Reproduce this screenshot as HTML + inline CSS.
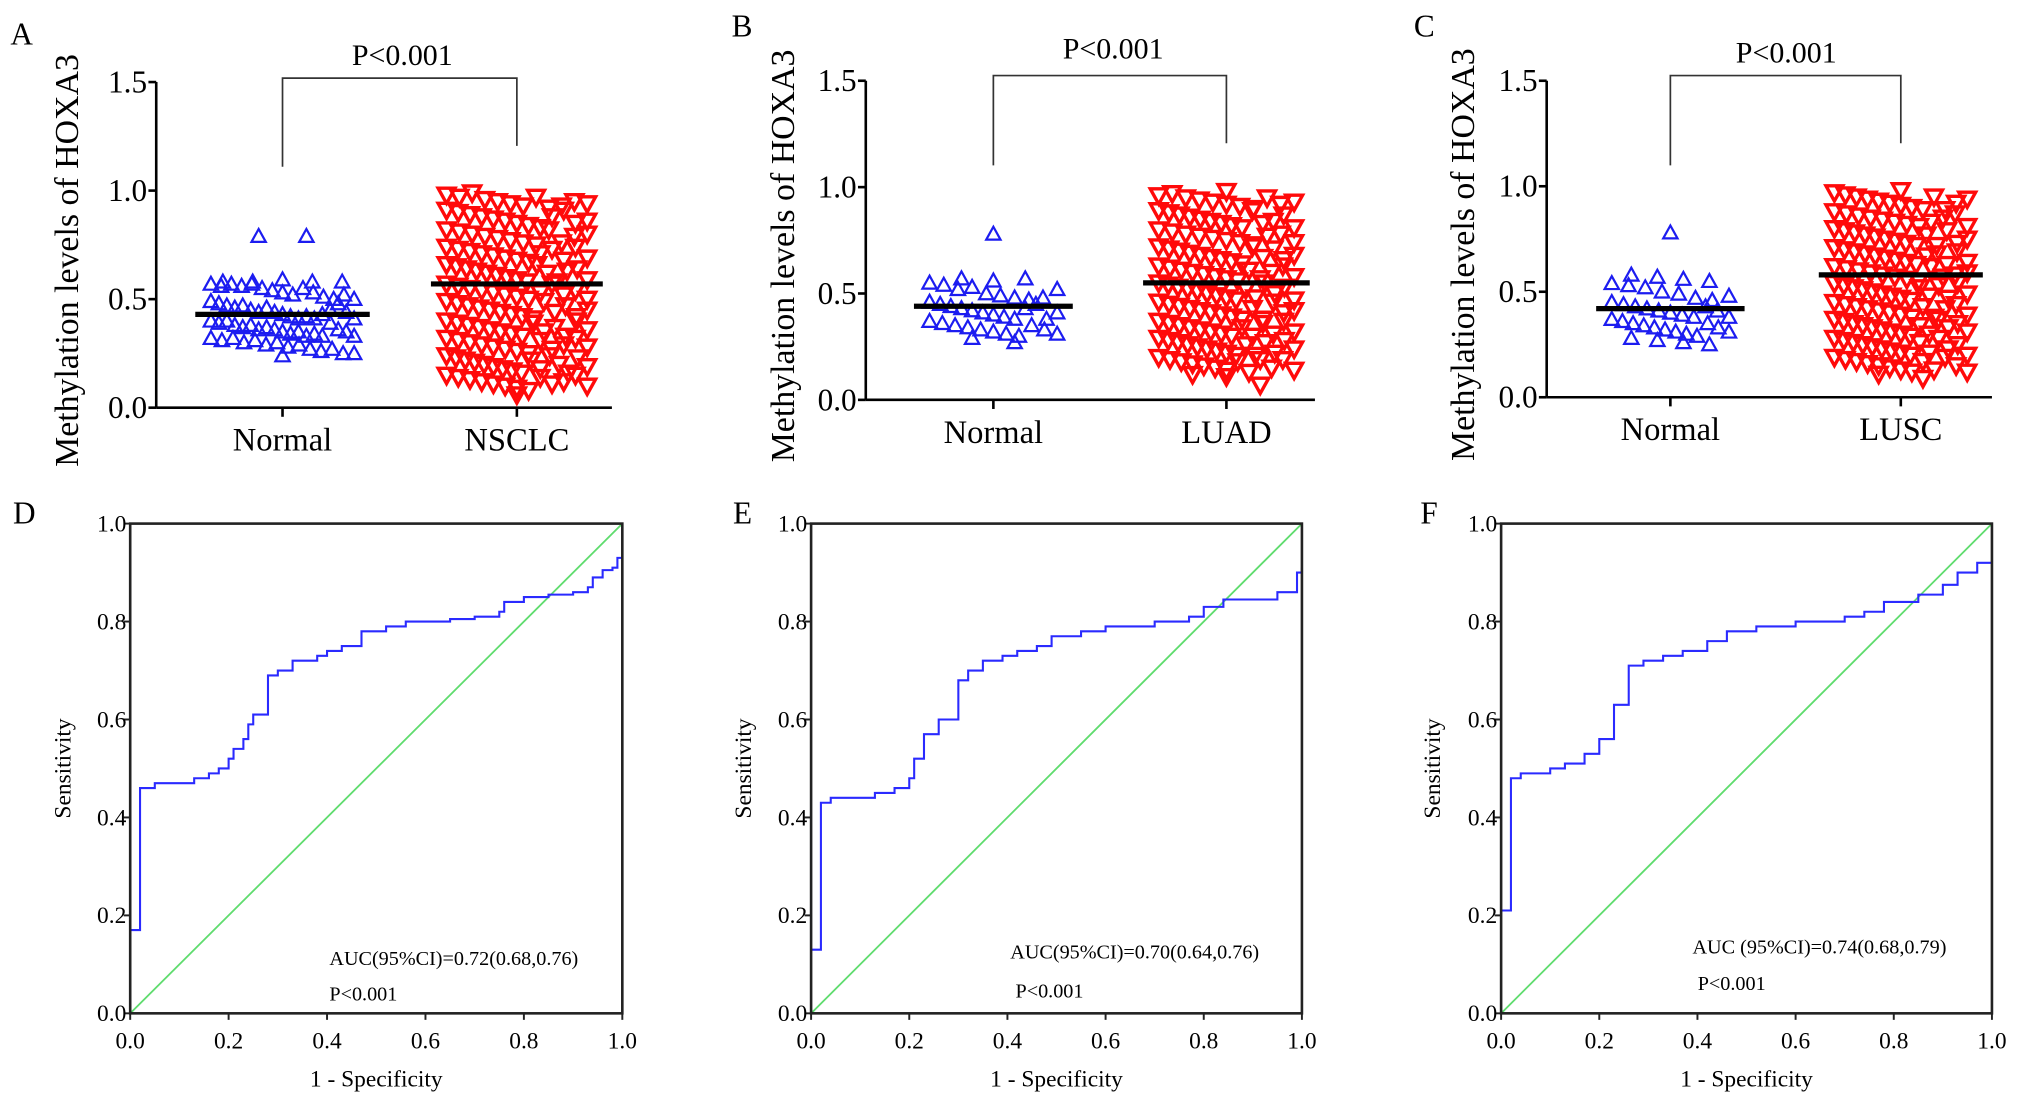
<!DOCTYPE html>
<html><head><meta charset="utf-8"><style>
html,body{margin:0;padding:0;background:#fff;}
svg{display:block;font-family:"Liberation Serif",serif;}
</style></head><body>
<svg id="fig" width="2031" height="1098" viewBox="0 0 1560 843" preserveAspectRatio="none" xmlns="http://www.w3.org/2000/svg"></svg>
<script>
// ---------- data ----------
const scatterCategories = [["Normal","NSCLC"],["Normal","LUAD"],["Normal","LUSC"]];
const scatterYTicks = [0.0,0.5,1.0,1.5];
const scatterYTickLabels = ["0.0","0.5","1.0","1.5"];
const normalA = [0.79,0.79,0.58,0.57,0.58,0.56,0.59,0.57,0.58,0.56,0.57,0.58,0.55,0.54,0.53,0.52,0.55,0.53,0.51,0.50,0.49,0.48,0.47,0.46,0.47,0.45,0.44,0.46,0.44,0.43,0.42,0.41,0.42,0.40,0.41,0.39,0.40,0.38,0.37,0.38,0.36,0.37,0.36,0.35,0.34,0.35,0.33,0.34,0.32,0.33,0.31,0.32,0.30,0.31,0.29,0.30,0.28,0.29,0.27,0.26,0.27,0.25,0.24,0.25,0.43,0.45,0.39,0.36,0.48,0.52,0.50,0.35,0.33,0.44,0.41];
const tumorA = [0.98,0.97,0.99,0.96,0.95,0.94,0.93,0.97,0.92,0.91,0.90,0.89,0.88,0.87,0.93,0.86,0.85,0.84,0.83,0.82,0.81,0.80,0.79,0.78,0.77,0.76,0.75,0.74,0.73,0.72,0.71,0.70,0.69,0.68,0.67,0.66,0.65,0.64,0.63,0.62,0.61,0.60,0.59,0.58,0.57,0.56,0.55,0.54,0.53,0.52,0.51,0.50,0.49,0.48,0.47,0.46,0.45,0.44,0.43,0.42,0.41,0.40,0.39,0.38,0.37,0.36,0.35,0.34,0.33,0.32,0.31,0.30,0.29,0.28,0.27,0.26,0.25,0.24,0.23,0.22,0.21,0.20,0.19,0.18,0.17,0.16,0.15,0.14,0.13,0.12,0.11,0.10,0.09,0.08,0.06,0.95,0.88,0.82,0.76,0.71,0.66,0.62,0.58,0.53,0.49,0.44,0.39,0.35,0.31,0.27,0.22,0.18,0.14,0.11,0.91,0.85,0.79,0.73,0.68,0.63,0.57,0.52,0.47,0.42,0.37,0.33,0.29,0.24,0.20,0.16,0.12,0.94,0.86,0.80,0.74,0.69,0.64,0.59,0.54,0.50,0.45,0.40,0.36,0.32,0.28,0.23,0.19,0.15,0.10];
const normalB = [0.78,0.57,0.56,0.55,0.57,0.54,0.52,0.53,0.50,0.49,0.48,0.47,0.46,0.45,0.44,0.43,0.42,0.41,0.40,0.39,0.38,0.37,0.36,0.35,0.34,0.33,0.32,0.31,0.30,0.29,0.27,0.43,0.45,0.38,0.35,0.48,0.41,0.33,0.31,0.52];
const tumorB = [0.98,0.96,0.97,0.95,0.94,0.93,0.92,0.91,0.90,0.89,0.88,0.87,0.86,0.85,0.84,0.83,0.82,0.81,0.80,0.79,0.78,0.77,0.76,0.75,0.74,0.73,0.72,0.71,0.70,0.69,0.68,0.67,0.66,0.65,0.64,0.63,0.62,0.61,0.60,0.59,0.58,0.57,0.56,0.55,0.54,0.53,0.52,0.51,0.50,0.49,0.48,0.47,0.46,0.45,0.44,0.43,0.42,0.41,0.40,0.39,0.38,0.37,0.36,0.35,0.34,0.33,0.32,0.31,0.30,0.29,0.28,0.27,0.26,0.25,0.24,0.23,0.22,0.21,0.20,0.19,0.18,0.17,0.16,0.15,0.14,0.12,0.11,0.07,0.95,0.89,0.83,0.77,0.72,0.67,0.61,0.57,0.52,0.48,0.43,0.38,0.34,0.30,0.26,0.21,0.18,0.13,0.92,0.84,0.78,0.71,0.66,0.60,0.55,0.50,0.46,0.41,0.36,0.31,0.27,0.22,0.19,0.15,0.93,0.87,0.81,0.74,0.68,0.63,0.58,0.53,0.47,0.42,0.37,0.32,0.28,0.24,0.19,0.14];
const normalC = [0.78,0.58,0.57,0.56,0.55,0.54,0.53,0.52,0.50,0.49,0.47,0.46,0.45,0.44,0.43,0.42,0.41,0.40,0.39,0.38,0.37,0.36,0.35,0.34,0.33,0.32,0.31,0.30,0.29,0.28,0.27,0.26,0.25,0.43,0.41,0.38,0.35,0.48,0.33,0.31];
const tumorC = [0.98,0.97,0.96,0.95,0.94,0.93,0.92,0.91,0.90,0.89,0.88,0.87,0.86,0.85,0.84,0.83,0.82,0.81,0.80,0.79,0.78,0.77,0.76,0.75,0.74,0.73,0.72,0.71,0.70,0.69,0.68,0.67,0.66,0.65,0.64,0.63,0.62,0.61,0.60,0.59,0.58,0.57,0.56,0.55,0.54,0.53,0.52,0.51,0.50,0.49,0.48,0.47,0.46,0.45,0.44,0.43,0.42,0.41,0.40,0.39,0.38,0.37,0.36,0.35,0.34,0.33,0.32,0.31,0.30,0.29,0.28,0.27,0.26,0.25,0.24,0.23,0.22,0.21,0.20,0.19,0.18,0.17,0.16,0.15,0.14,0.13,0.12,0.11,0.09,0.95,0.89,0.83,0.77,0.72,0.67,0.62,0.57,0.52,0.48,0.43,0.38,0.34,0.30,0.26,0.21,0.17,0.13,0.92,0.85,0.79,0.73,0.68,0.63,0.58,0.53,0.47,0.42,0.37,0.33,0.28,0.23,0.19,0.15,0.94,0.87,0.81,0.75,0.69,0.64,0.59,0.54,0.49,0.44,0.39,0.35,0.31,0.25,0.20,0.12];
const normalMeans = [0.43,0.44,0.42];
const tumorMeans = [0.57,0.55,0.58];
const rocTicks = [0.0,0.2,0.4,0.6,0.8,1.0];
const rocTickLabels = ["0.0","0.2","0.4","0.6","0.8","1.0"];
const rocD_fpr = [0,0.02,0.02,0.05,0.12,0.13,0.16,0.18,0.2,0.21,0.23,0.24,0.25,0.28,0.28,0.3,0.33,0.38,0.4,0.43,0.47,0.47,0.52,0.56,0.65,0.7,0.75,0.76,0.8,0.85,0.9,0.93,0.94,0.96,0.98,0.99,1];
const rocD_tpr = [0.17,0.17,0.46,0.47,0.47,0.48,0.49,0.5,0.52,0.54,0.56,0.59,0.61,0.62,0.69,0.7,0.72,0.73,0.74,0.75,0.76,0.78,0.79,0.8,0.805,0.81,0.82,0.84,0.85,0.855,0.86,0.87,0.89,0.905,0.91,0.93,0.935];
const rocE_fpr = [0,0.02,0.02,0.04,0.13,0.17,0.2,0.21,0.23,0.26,0.3,0.3,0.32,0.35,0.39,0.42,0.46,0.49,0.55,0.6,0.7,0.77,0.8,0.84,0.95,0.99,0.99,1];
const rocE_tpr = [0.13,0.13,0.43,0.44,0.45,0.46,0.48,0.52,0.57,0.6,0.6,0.68,0.7,0.72,0.73,0.74,0.75,0.77,0.78,0.79,0.8,0.81,0.83,0.845,0.86,0.87,0.9,0.91];
const rocF_fpr = [0,0.02,0.02,0.04,0.1,0.13,0.17,0.2,0.23,0.23,0.25,0.26,0.29,0.33,0.37,0.42,0.46,0.52,0.6,0.7,0.74,0.78,0.85,0.9,0.93,0.97,1];
const rocF_tpr = [0.21,0.21,0.48,0.49,0.5,0.51,0.53,0.56,0.58,0.63,0.63,0.71,0.72,0.73,0.74,0.76,0.78,0.79,0.8,0.81,0.82,0.84,0.855,0.875,0.9,0.92,0.925];
const aucTexts = ["AUC(95%CI)=0.72(0.68,0.76)","AUC(95%CI)=0.70(0.64,0.76)","AUC (95%CI)=0.74(0.68,0.79)"];

// ---------- drawing ----------
const NS="http://www.w3.org/2000/svg";
const svg=document.getElementById('fig');
function mk(tag,attrs,parent){const e=document.createElementNS(NS,tag);for(const k in attrs)e.setAttribute(k,attrs[k]);(parent||svg).appendChild(e);return e;}
function txt(s,attrs,parent){const e=mk('text',attrs,parent);e.textContent=s;return e;}

const scatterPanels=[
 {letter:"A",lx:8,ly:34,ax:120,y0:313,y15:63,xend:470,cx:[217,397],hw:[61,60],bt:60,bl:128,br:112,px:309,py:50,ylx:60,normal:normalA,tumor:tumorA},
 {letter:"B",lx:562,ly:28,ax:665,y0:307,y15:62,xend:1010,cx:[763,942],hw:[55,58],bt:58,bl:127,br:110,px:855,py:45,ylx:610,normal:normalB,tumor:tumorB},
 {letter:"C",lx:1086,ly:28,ax:1188,y0:305,y15:62,xend:1530,cx:[1283,1460],hw:[51,57],bt:58,bl:127,br:110,px:1372,py:48,ylx:1132,normal:normalC,tumor:tumorC}
];
scatterPanels.forEach((p,pi)=>{
 const g=mk('g',{});
 
 
 const yS=v=>p.y0-v/1.5*(p.y0-p.y15);
 const lab=txt(p.letter,{x:p.lx,y:p.ly,'font-size':24},g);
 
 const yt=txt("Methylation levels of HOXA3",{x:0,y:0,'font-size':26,'text-anchor':'middle',transform:`translate(${p.ylx},${(p.y0+p.y15)/2+12}) rotate(-90)`},g);
 
 [p.normal,p.tumor].forEach((vals,gi)=>{
  const color=gi===0?'#1c1cf0':'#ff0a0a';
  const bins={};
  vals.forEach((v,i)=>{const b=Math.round(yS(v)/14);(bins[b]=bins[b]||[]).push(i);});
  Object.values(bins).forEach(idxs=>{
   const n=idxs.length; const W=2*p.hw[gi]-12;
   idxs.forEach((i,k)=>{
    const x=p.cx[gi]+(n===1?0:(k/(n-1)-0.5)*W*Math.min(1,n/6));
    const y=yS(vals[i]); const s=gi===0?5.5:6.5;
    const pts=gi===0?`${x},${y-s} ${x-s},${y+s*0.8} ${x+s},${y+s*0.8}`:`${x},${y+s} ${x-s},${y-s*0.8} ${x+s},${y-s*0.8}`;
    const t=mk('polygon',{points:pts,fill:'none',stroke:color,'stroke-width':gi===0?1.7:2.6},g);
    
    
   });
  });
  const m=(gi===0?normalMeans:tumorMeans)[pi];
  const ml=mk('line',{x1:p.cx[gi]-p.hw[gi]-6,x2:p.cx[gi]+p.hw[gi]+6,y1:yS(m),y2:yS(m),stroke:'#000','stroke-width':4},g);
  
 });
 const ya=mk('line',{x1:p.ax,x2:p.ax,y1:p.y15,y2:p.y0,stroke:'#000','stroke-width':2},g);
 
 const xa=mk('line',{x1:p.ax,x2:p.xend,y1:p.y0,y2:p.y0,stroke:'#000','stroke-width':2},g);
 
 scatterYTicks.forEach((t,i)=>{
  mk('line',{x1:p.ax-6,x2:p.ax,y1:yS(t),y2:yS(t),stroke:'#000','stroke-width':2},g);
  const tl=txt(scatterYTickLabels[i],{x:p.ax-7,y:yS(t)+8,'font-size':24,'text-anchor':'end'},g);
  
 });
 scatterCategories[pi].forEach((c,i)=>{
  mk('line',{x1:p.cx[i],x2:p.cx[i],y1:p.y0,y2:p.y0+7,stroke:'#000','stroke-width':2},g);
  const cl=txt(c,{x:p.cx[i],y:p.y0+33,'font-size':25,'text-anchor':'middle'},g);
  
 });
 const br=mk('polyline',{points:`${p.cx[0]},${p.bl} ${p.cx[0]},${p.bt} ${p.cx[1]},${p.bt} ${p.cx[1]},${p.br}`,fill:'none',stroke:'#333','stroke-width':1.3},g);
 
 const pt=txt("P<0.001",{x:p.px,y:p.py,'font-size':23,'text-anchor':'middle'},g);
 
});

const rocPanels=[
 {letter:"D",lx:10,ax:100,x1:478,fpr:rocD_fpr,tpr:rocD_tpr,atx:253,aty:741,ppy:768,ylx:54},
 {letter:"E",lx:563,ax:623,x1:1000,fpr:rocE_fpr,tpr:rocE_tpr,atx:776,aty:736,ppy:766,ylx:577},
 {letter:"F",lx:1091,ax:1153,x1:1530,fpr:rocF_fpr,tpr:rocF_tpr,atx:1300,aty:732,ppy:760,ylx:1106}
];
rocPanels.forEach((p,pi)=>{
 const g=mk('g',{});
 
 
 const top=402,bot=778;
 const xS=v=>p.ax+v*(p.x1-p.ax), yS=v=>bot-v*(bot-top);
 const lab=txt(p.letter,{x:p.lx,y:402,'font-size':24},g);
 
 const ref=mk('line',{x1:xS(0),y1:yS(0),x2:xS(1),y2:yS(1),stroke:'#5fdc6e','stroke-width':1.4},g);
 
 let d='';
 p.fpr.forEach((f,i)=>{
  if(i===0)d+=`M${xS(f)},${yS(p.tpr[i])}`;
  else d+=`L${xS(f)},${yS(p.tpr[i-1])}L${xS(f)},${yS(p.tpr[i])}`;
 });
 const c=mk('path',{d:d,fill:'none',stroke:'#2a2aff','stroke-width':1.6},g);
 
 const box=mk('rect',{x:p.ax,y:top,width:p.x1-p.ax,height:bot-top,fill:'none',stroke:'#222','stroke-width':2},g);
 
 rocTicks.forEach((t,i)=>{
  mk('line',{x1:p.ax-5,x2:p.ax,y1:yS(t),y2:yS(t),stroke:'#222','stroke-width':1.5},g);
  mk('line',{x1:xS(t),x2:xS(t),y1:bot,y2:bot+5,stroke:'#222','stroke-width':1.5},g);
  const yl=txt(rocTickLabels[i],{x:p.ax-3,y:yS(t)+6,'font-size':18,'text-anchor':'end'},g);
  
  const xl=txt(rocTickLabels[i],{x:xS(t),y:bot+27,'font-size':18,'text-anchor':'middle'},g);
  
 });
 const xt=txt("1 - Specificity",{x:(p.ax+p.x1)/2,y:834,'font-size':18,'text-anchor':'middle'},g);
 
 const yt=txt("Sensitivity",{x:0,y:0,'font-size':18,'text-anchor':'middle',transform:`translate(${p.ylx},${590}) rotate(-90)`},g);
 
 const at=txt(aucTexts[pi],{x:p.atx,y:p.aty,'font-size':15.5},g);
 
 const pp=txt("P<0.001",{x:p.atx+(pi===0?0:4),y:p.ppy,'font-size':15.5},g);
 
});
</script>
</body></html>
